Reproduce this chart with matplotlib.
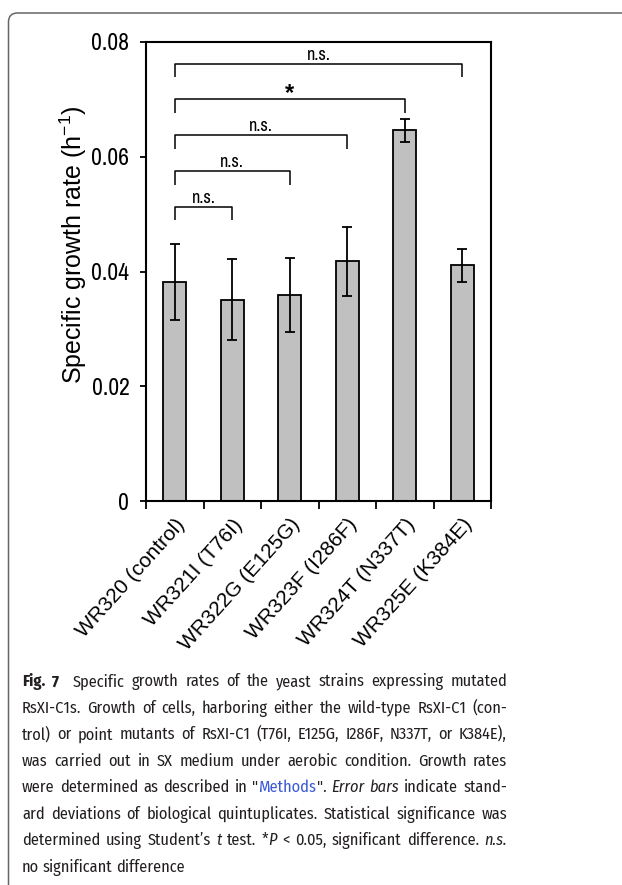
import re
import numpy as np
import matplotlib
matplotlib.use("Agg")
import matplotlib.pyplot as plt
from matplotlib import font_manager
from matplotlib.patches import FancyBboxPatch
from matplotlib.transforms import IdentityTransform

# ---------------- data ----------------
strains = ["WR320 (control)", "WR321I (T76I)", "WR322G (E125G)",
           "WR323F (I286F)", "WR324T (N337T)", "WR325E (K384E)"]
growth_rate = [0.0381, 0.0351, 0.0359, 0.0418, 0.0646, 0.0411]
growth_sd = [0.0066, 0.0070, 0.0064, 0.0060, 0.0020, 0.0029]
y_ticks = [0, 0.02, 0.04, 0.06, 0.08]
y_tick_labels = ["0", "0.02", "0.04", "0.06", "0.08"]
comp_pairs = [(0, 1), (0, 2), (0, 3), (0, 4), (0, 5)]
comp_heights = [0.0513, 0.0575, 0.0638, 0.0700, 0.0762]
comp_labels = ["n.s.", "n.s.", "n.s.", "*", "n.s."]
y_label = "Specific growth rate (h$^{-1}$)"
caption_lines = [
    "<b>Fig. 7</b>  Specific growth rates of the yeast strains expressing mutated",
    "RsXI-C1s. Growth of cells, harboring either the wild-type RsXI-C1 (con-",
    "trol) or point mutants of RsXI-C1 (T76I, E125G, I286F, N337T, or K384E),",
    "was carried out in SX medium under aerobic condition. Growth rates",
    "were determined as described in \"<l>Methods</l>\". <i>Error</i> <i>bars</i> indicate stand-",
    "ard deviations of biological quintuplicates. Statistical significance was",
    "determined using Student\u2019s <i>t</i> test. *<i>P</i> < 0.05, significant difference. <i>n.s.</i>",
    "no significant difference",
]

# ---------------- fonts ----------------
avail = {f.name for f in font_manager.fontManager.ttflist}


def pick(*names):
    for n in names:
        if n in avail:
            return n
    return "DejaVu Sans"


SANS = pick("Liberation Sans", "Arimo", "DejaVu Sans")
NARROW = pick("Archivo Narrow", "Roboto Condensed", "Liberation Sans")
CAP_FAM = pick("Fira Sans Condensed", "Roboto Condensed", "Lato", "Liberation Sans")
plt.rcParams["mathtext.fontset"] = "custom"
plt.rcParams["mathtext.rm"] = SANS
plt.rcParams["mathtext.it"] = SANS + ":italic"
plt.rcParams["mathtext.default"] = "regular"

W, H = 622, 885
fig = plt.figure(figsize=(W / 100, H / 100), dpi=100)
fig.patch.set_facecolor("white")

frame = FancyBboxPatch((8.5, -40), 900, H - 13 + 40,
                       boxstyle="round,pad=0,rounding_size=9",
                       transform=IdentityTransform(), facecolor="none",
                       edgecolor="#666666", linewidth=1.1)
fig.patches.append(frame)

# ---------------- axes ----------------
ax_l, ax_r, ax_t, ax_b = 146, 491, 41.7, 501.3
ax = fig.add_axes([ax_l / W, 1 - ax_b / H, (ax_r - ax_l) / W, (ax_b - ax_t) / H])
x = np.arange(len(strains))
ax.bar(x, growth_rate, width=0.4, color="#c0c0c0", edgecolor="black",
       linewidth=1.3, zorder=2)
ax.errorbar(x, growth_rate, yerr=growth_sd, fmt="none", ecolor="black",
            elinewidth=1.3, capsize=3.3, capthick=1.3, zorder=3)
ax.set_xlim(-0.5, len(strains) - 0.5)
ax.set_ylim(y_ticks[0], y_ticks[-1])
for s in ax.spines.values():
    s.set_linewidth(1.5)

ax.set_yticks(y_ticks)
ax.set_yticklabels(y_tick_labels, fontsize=17, family=NARROW)
ax.tick_params(axis="y", direction="out", length=4, width=1.3, pad=8)

ax.set_xticks(x)
ax.set_xticklabels(strains, rotation=48, ha="right", va="top",
                   rotation_mode="anchor", fontsize=15, family=SANS)
ax.tick_params(axis="x", which="major", length=0, pad=10)
ax.set_xticks(np.arange(-0.5, len(strains), 1.0), minor=True)
ax.tick_params(axis="x", which="minor", direction="out", length=6, width=1.3)

# significance brackets
leg = 0.0024
for (i, j), h, lab in zip(comp_pairs, comp_heights, comp_labels):
    ax.plot([i, i, j, j], [h - leg, h, h, h - leg], color="black", lw=1.1,
            zorder=4, solid_capstyle="butt")
    if lab == "*":
        ax.annotate(lab, xy=((i + j) / 2, h), xytext=(0, -0.5),
                    textcoords="offset points", ha="center", va="baseline",
                    fontsize=17, fontweight="bold", family=SANS)
    else:
        ax.annotate(lab, xy=((i + j) / 2, h), xytext=(0, 2.5),
                    textcoords="offset points", ha="center", va="baseline",
                    fontsize=13, family=NARROW)

fig.text(73 / W, 1 - 245 / H, y_label, rotation=90, ha="center", va="center",
         fontsize=18, family=SANS)

# ---------------- caption (justified) ----------------
renderer = fig.canvas.get_renderer()
cap_left, cap_right = 22, 507
cap_top_baseline, cap_spacing = 686.5, 26.45
STYLE = {"n": dict(color="#231f20"),
         "b": dict(color="#231f20", fontweight="bold"),
         "i": dict(color="#231f20", fontstyle="italic"),
         "l": dict(color="#3b5bd6")}


def parse(line):
    runs = []
    for m in re.finditer(r"<([bil])>(.*?)</\1>|([^<]+|<)", line):
        if m.group(1):
            runs.append((m.group(2), m.group(1)))
        else:
            runs.append((m.group(3), "n"))
    words, gaps = [[]], []
    for text, st in runs:
        for p in re.split(r"( +)", text):
            if not p:
                continue
            if p.startswith(" "):
                gaps.append(len(p))
                words.append([])
            else:
                words[-1].append((p, st))
    return words, gaps


def raw_width(txt, size, fam, st):
    t = fig.text(0, 0, txt, transform=IdentityTransform(), fontsize=size,
                 family=fam, va="baseline", ha="left", **STYLE[st])
    w = t.get_window_extent(renderer).width
    t.remove()
    return w


def adv_width(txt, size, fam, st):
    # advance width, free of any constant per-object overhead
    return raw_width("n" + txt + "n", size, fam, st) - raw_width("nn", size, fam, st)


def measure_all(size, fam):
    lines = []
    for line in caption_lines:
        words, gaps = parse(line)
        wl = [[(txt, st, adv_width(txt, size, fam, st)) for txt, st in w] for w in words]
        lines.append((wl, gaps))
    sp = adv_width(" ", size, fam, "n")
    return lines, sp


avail_w = (cap_right - cap_left) * 0.985
size = 14.5
while True:
    lines, sp = measure_all(size, CAP_FAM)
    natural = max(sum(w for rl in wl for *_, w in rl) + sp * sum(g) for wl, g in lines)
    if natural <= avail_w or size < 8:
        break
    size -= 0.25

for k, (wl, gaps) in enumerate(lines):
    y = H - (cap_top_baseline + k * cap_spacing)
    total = sum(w for rl in wl for *_, w in rl)
    if k < len(lines) - 1 and sum(gaps) > 0:
        unit = (cap_right - cap_left - total) / sum(gaps)
    else:
        unit = sp
    xpos = cap_left
    for n, rl in enumerate(wl):
        for txt, st, w in rl:
            fig.text(xpos, y, txt, transform=IdentityTransform(), fontsize=size,
                     family=CAP_FAM, va="baseline", ha="left", **STYLE[st])
            xpos += w
        if n < len(gaps):
            xpos += unit * gaps[n]

fig.savefig("out.png", dpi=100, facecolor="white")
